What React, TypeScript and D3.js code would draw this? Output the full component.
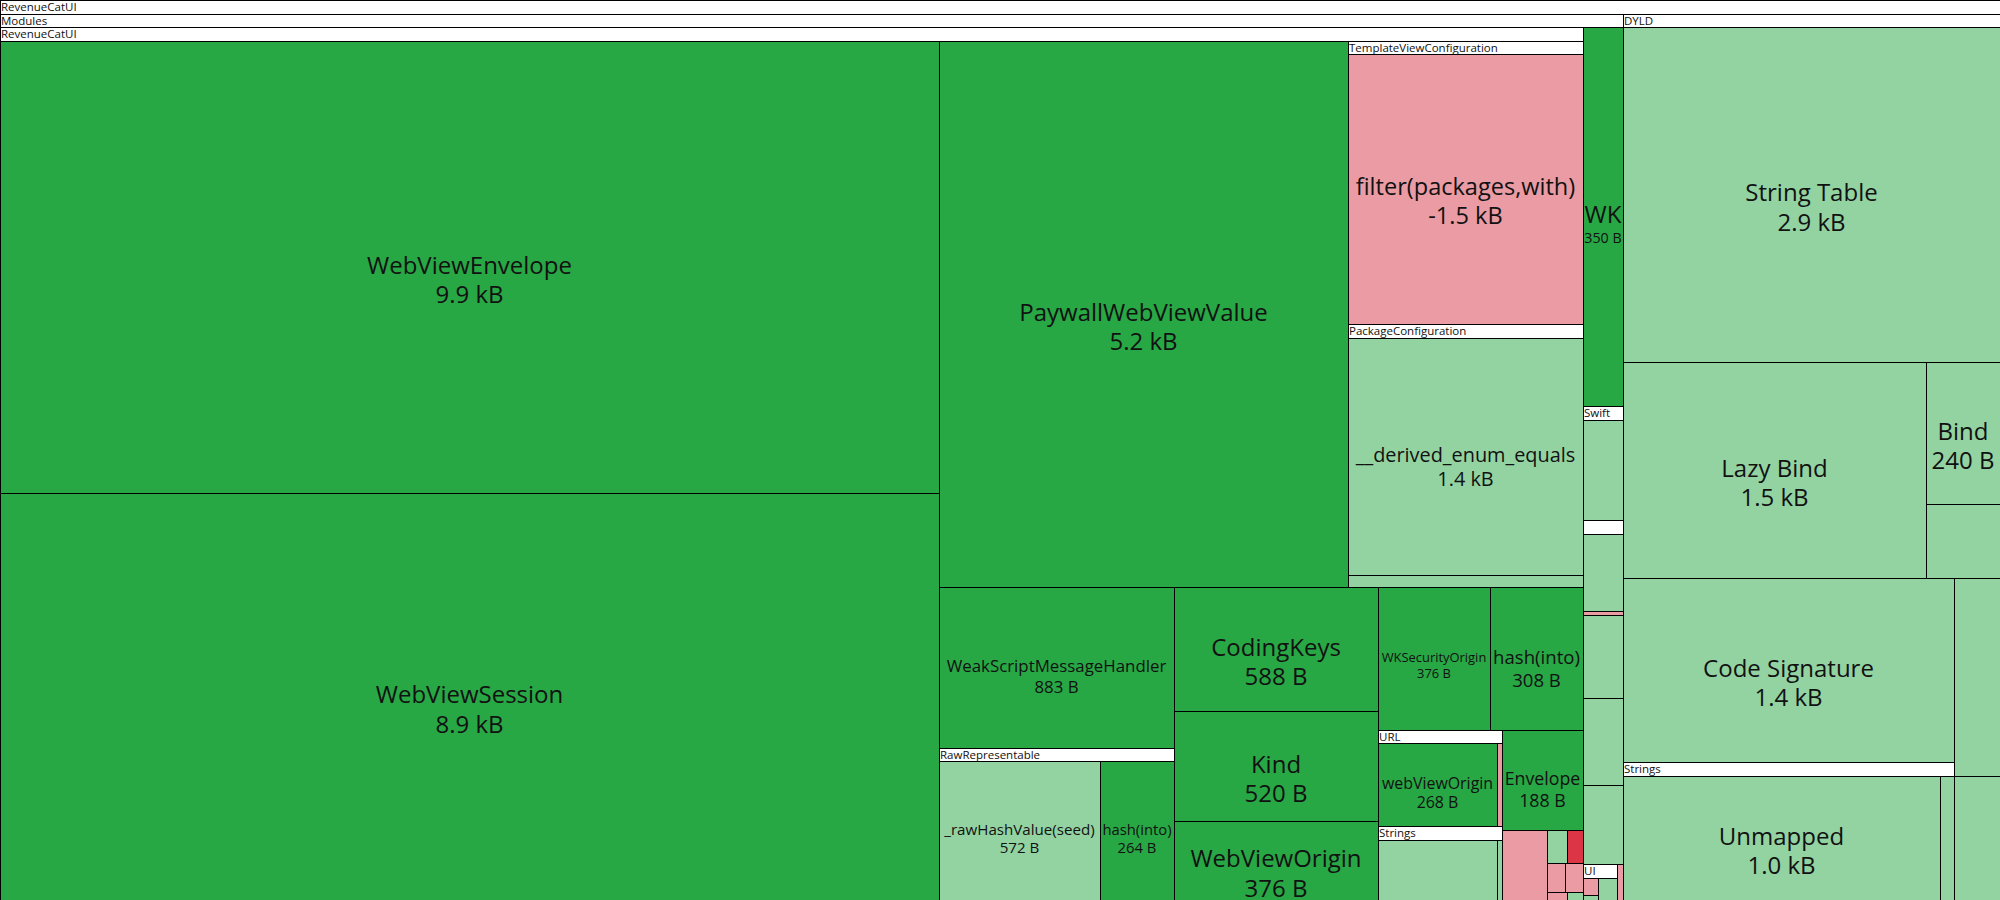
import { useEffect, useRef } from "react";
import * as d3 from "d3";

type Change = "added" | "increased" | "decreased" | "removed";
type Entry = [string, number, Change];

const W = 2000;
const H = 900;
const HEADER = 13.6;

// RevenueCatUI module: types and members with their size change in bytes
const webViewTypes: Entry[] = [
  ["WebViewEnvelope", 9900, "added"],
  ["WebViewSession", 8900, "added"],
];
const paywallTypes: Entry[] = [["PaywallWebViewValue", 5200, "added"]];
const templateViewConfiguration: Entry[] = [
  ["filter(packages,with)", -1548, "decreased"],
];
const packageConfiguration: Entry[] = [
  ["__derived_enum_equals", 1370, "increased"],
  ["hash(into)", 66, "increased"],
];
const handlerTypes: Entry[] = [["WeakScriptMessageHandler", 883, "added"]];
const rawRepresentable: Entry[] = [
  ["_rawHashValue(seed)", 572, "increased"],
  ["hash(into)", 264, "added"],
];
const originTypes: Entry[] = [
  ["CodingKeys", 588, "added"],
  ["Kind", 520, "added"],
  ["WebViewOrigin", 376, "added"],
  ["WKSecurityOrigin", 376, "added"],
  ["hash(into)", 308, "added"],
];
const urlMembers: Entry[] = [
  ["webViewOrigin", 268, "added"],
  ["absoluteString", 11, "decreased"],
];
const stringLiterals: Entry[] = [
  ["window.webkit.messageHandlers.revenueCat.postMessage", 206, "increased"],
  ["revenueCatPaywall", 9, "increased"],
];
const envelopeTypes: Entry[] = [["Envelope", 188, "added"]];
const smallMembers: Entry[] = [
  ["PaywallViewConfiguration.init", 72, "decreased"],
  ["encode(to:)", 15, "increased"],
  ["deinit", 12, "removed"],
  ["init(from:)", 12, "decreased"],
  ["description", 12, "decreased"],
  ["debugDescription", 4, "decreased"],
  ["hashValue", 3, "increased"],
];

// other linked modules
const webKitModule: Entry[] = [["WK", 350, "added"]];
const swiftMembers: Entry[] = [["Dictionary.subscript", 105, "increased"]];
const concurrencyMembers: Entry[] = [
  ["withCheckedContinuation", 84, "increased"],
  ["Task", 4, "decreased"],
];
const otherModules: Entry[] = [
  ["Foundation", 76, "increased"],
  ["CoreGraphics", 81, "increased"],
  ["ObjectiveC", 73, "increased"],
];
const uiMembers: Entry[] = [
  ["UIView", 10, "decreased"],
  ["UIColor", 3, "increased"],
  ["UIHostingController", 15, "increased"],
];
const trailingModules: Entry[] = [["Combine", 5, "decreased"]];

// DYLD sections
const stringTable: Entry[] = [["String Table", 2900, "increased"]];
const lazyBind: Entry[] = [["Lazy Bind", 1500, "increased"]];
const bindInfo: Entry[] = [
  ["Bind", 240, "increased"],
  ["Function Starts", 127, "increased"],
];
const codeSignature: Entry[] = [["Code Signature", 1400, "increased"]];
const dyldStrings: Entry[] = [
  ["Unmapped", 1000, "increased"],
  ["Symbol Stubs", 47, "increased"],
];
const symbolInfo: Entry[] = [
  ["Symbol Table", 207, "increased"],
  ["Rebase Info", 129, "increased"],
];

const colors: Record<Change, string> = {
  added: "#28a745",
  increased: "#93d3a2",
  decreased: "#ea9ba4",
  removed: "#dc3545",
};

interface TreeNode {
  name: string;
  bytes?: number;
  change?: Change;
  header?: boolean;
  band?: boolean;
  tile?: string;
  children?: TreeNode[];
}

const leaf = ([name, bytes, change]: Entry): TreeNode => ({ name, bytes, change });
const group = (name: string, children: TreeNode[], tile = "squarify"): TreeNode => ({
  name,
  header: true,
  tile,
  children,
});
// unlabeled grouping used only to arrange neighbouring cells
const band = (tile: string, children: TreeNode[]): TreeNode => ({
  name: "",
  band: true,
  tile,
  children,
});

function buildTree(): TreeNode {
  const revenueCatUI = group("RevenueCatUI", [
    ...webViewTypes.map(leaf),
    band("dice", [
      ...paywallTypes.map(leaf),
      band("slice", [
        group("TemplateViewConfiguration", templateViewConfiguration.map(leaf)),
        group("PackageConfiguration", packageConfiguration.map(leaf)),
      ]),
    ]),
    ...handlerTypes.map(leaf),
    group("RawRepresentable", rawRepresentable.map(leaf)),
    ...originTypes.map(leaf),
    group("URL", urlMembers.map(leaf)),
    group("Strings", stringLiterals.map(leaf)),
    ...envelopeTypes.map(leaf),
    ...smallMembers.map(leaf),
  ]);

  const modules = group("Modules", [
    revenueCatUI,
    ...webKitModule.map(leaf),
    group("Swift", swiftMembers.map(leaf)),
    group("_Concurrency", concurrencyMembers.map(leaf)),
    ...otherModules.map(leaf),
    group("UI", uiMembers.map(leaf)),
    ...trailingModules.map(leaf),
  ]);

  const dyld = group(
    "DYLD",
    [
      ...stringTable.map(leaf),
      band("dice", [...lazyBind.map(leaf), band("slice", bindInfo.map(leaf))]),
      band("dice", [
        band("slice", [...codeSignature.map(leaf), group("Strings", dyldStrings.map(leaf))]),
        band("slice", symbolInfo.map(leaf)),
      ]),
    ],
    "slice"
  );

  return group("RevenueCatUI", [modules, dyld]);
}

const tilers: Record<string, any> = {
  squarify: d3.treemapSquarify,
  binary: d3.treemapBinary,
  slice: d3.treemapSlice,
  dice: d3.treemapDice,
};

const formatBytes = (b: number) =>
  Math.abs(b) >= 1000 ? `${(b / 1000).toFixed(1)} kB` : `${b} B`;

export default function App() {
  const ref = useRef<SVGSVGElement>(null);

  useEffect(() => {
    document.body.style.margin = "0";
    const svg = d3.select(ref.current);
    svg.selectAll("*").remove();

    const root = d3
      .hierarchy<TreeNode>(buildTree())
      .sum((d) => (d.children ? 0 : Math.abs(d.bytes || 0)));

    d3
      .treemap<TreeNode>()
      .size([W, H])
      .paddingTop((d) => (d.data.header ? HEADER : 0))
      .tile((node: any, x0: number, y0: number, x1: number, y1: number) =>
        (tilers[node.data.tile] || d3.treemapSquarify)(node, x0, y0, x1, y1)
      )
      .round(true)(root);

    const nodes: any[] = [];
    root.eachBefore((n) => {
      if (!n.data.band) nodes.push(n);
    });

    const cell = svg
      .selectAll("g.cell")
      .data(nodes)
      .join("g")
      .attr("class", "cell")
      .attr("transform", (d) => `translate(${d.x0},${d.y0})`);

    cell
      .append("rect")
      .attr("x", 0.5)
      .attr("y", 0.5)
      .attr("width", (d) => Math.max(0, d.x1 - d.x0))
      .attr("height", (d) => Math.max(0, d.y1 - d.y0))
      .attr("fill", (d) => (d.children ? "#ffffff" : colors[d.data.change as Change]))
      .attr("stroke", "#000")
      .attr("stroke-width", 1);

    // group headers
    cell
      .filter((d) => !!d.children)
      .append("text")
      .attr("x", 1)
      .attr("y", 10.8)
      .style("font-size", "11.5px")
      .attr("fill", "#111")
      .text((d) => d.data.name)
      .each(function (d) {
        const t = this as SVGTextElement;
        if (t.getComputedTextLength() > d.x1 - d.x0 - 2) t.remove();
      });

    // leaf name and size, scaled down to fit the cell width
    cell
      .filter((d) => !d.children)
      .each(function (d) {
        const g = d3.select(this);
        const w = d.x1 - d.x0;
        const h = d.y1 - d.y0;
        const room = w * 0.935;

        const name = g
          .append("text")
          .attr("x", w / 2)
          .attr("text-anchor", "middle")
          .attr("dominant-baseline", "central")
          .attr("fill", "#111")
          .style("font-size", "24px")
          .text(d.data.name);
        const nameLen = (name.node() as SVGTextElement).getComputedTextLength();
        const fs = Math.min(24, (24 * room) / nameLen);
        if (fs < 10 || h < fs * 1.2) {
          name.remove();
          return;
        }
        const cy = h / 2 - 0.12 * fs;
        name.style("font-size", `${fs}px`).attr("y", cy);

        const value = g
          .append("text")
          .attr("x", w / 2)
          .attr("text-anchor", "middle")
          .attr("dominant-baseline", "central")
          .attr("fill", "#111")
          .style("font-size", "24px")
          .text(formatBytes(d.data.bytes));
        const valueLen = (value.node() as SVGTextElement).getComputedTextLength();
        const vs = Math.min(fs, (24 * room) / valueLen);
        value
          .style("font-size", `${vs}px`)
          .attr("y", cy + 0.62 * (fs + vs));
      });
  }, []);

  return (
    <svg
      ref={ref}
      width={W}
      height={H}
      style={{ display: "block", fontFamily: "'Open Sans', sans-serif" }}
    />
  );
}
